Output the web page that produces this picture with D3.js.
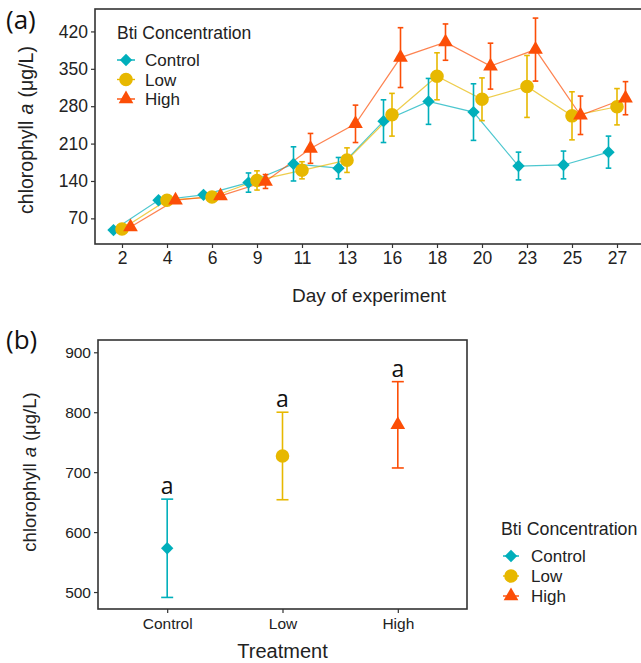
<!DOCTYPE html>
<html><head><meta charset="utf-8">
<script src="https://cdn.jsdelivr.net/npm/d3@7"></script>
<style>body{margin:0;background:#fff}svg{display:block}</style>
</head><body>
<svg id="chart" width="641" height="663"></svg>
<script>
// ---------- DATA ----------
const days = ["2","4","6","9","11","13","16","18","20","23","25","27"];
const controlMean = [48,104,114,137,172,164,252,289,269,168,170,194];
const controlErr  = [3,3,3,18,32,20,40,43,53,26,26,30];
const lowMean     = [50,104,110,141,160,179,264,336,293,317,262,279];
const lowErr      = [3,3,3,18,16,23,40,44,40,58,45,34];
const highMean    = [54,104,112,139,201,247,371,400,355,386,263,295];
const highErr     = [3,3,3,13,28,35,56,34,43,59,36,31];
const yTicksA     = [70,140,210,280,350,420];

const treatments  = ["Control","Low","High"];
const totalMean   = [573,727,779];
const totalErr    = [82,73,72];
const sigLetters  = ["a","a","a"];
const yTicksB     = [500,600,700,800,900];

const groups = ["Control","Low","High"];
const colors = {Control:"#00AFBB", Low:"#E7B800", High:"#FC4E07"};

// ---------- helpers ----------
function shapePath(g, r){
  if(g==="Control"){ return `M0,${-r}L${r},0L0,${r}L${-r},0Z`; }
  if(g==="Low"){ return d3.symbol(d3.symbolCircle, Math.PI*r*r)(); }
  const s = r*2.1, h = s*Math.sqrt(3)/2;
  return `M0,${-h*2/3}L${s/2},${h/3}L${-s/2},${h/3}Z`;
}
const rSize = {Control:6.2, Low:6.8, High:7};

const svg = d3.select("#chart");
const sans = "'Liberation Sans', Arial, sans-serif";
const roundFont = "'Open Sans', 'Noto Sans', sans-serif";

function yTitle(x, y, size){
  const t = svg.append("text").attr("transform",`translate(${x},${y}) rotate(-90)`)
    .attr("text-anchor","middle").style("font-family",sans).style("font-size",size+"px").attr("fill","#222");
  t.append("tspan").text("chlorophyll");
  t.append("tspan").attr("dx",size*0.32).text("a").style("font-style","italic");
  t.append("tspan").attr("dx",size*0.32).text("(μg/L)");
  return t;
}

// ================= PANEL A =================
const A = {l:95, r:644, t:9, b:244};
const xA = d3.scalePoint().domain(days).range([A.l, A.r]).padding(0.6);
const yA = d3.scaleLinear().domain([22, 462]).range([A.b, A.t]);
const dodge = {Control:-8.5, Low:0, High:8.5};
const seriesA = [
  {g:"Control", m:controlMean, e:controlErr},
  {g:"Low", m:lowMean, e:lowErr},
  {g:"High", m:highMean, e:highErr}
];
const gA = svg.append("g");

const axA_y = gA.append("g").attr("transform",`translate(${A.l},0)`)
  .call(d3.axisLeft(yA).tickValues(yTicksA).tickSize(4).tickPadding(3));
const axA_x = gA.append("g").attr("transform",`translate(0,${A.b})`)
  .call(d3.axisBottom(xA).tickSize(4).tickPadding(4));
[axA_x, axA_y].forEach(a=>{
  a.select(".domain").remove();
  a.selectAll(".tick line").attr("stroke","#333").attr("stroke-width",1.2);
  a.selectAll(".tick text").attr("fill","#222").style("font-family",sans).style("font-size","17.5px");
});

const lineA = d3.line().x((d,i)=>xA(days[i])+d.dx).y(d=>yA(d.v));
seriesA.forEach(s=>{
  const pts = s.m.map(v=>({v, dx:dodge[s.g]}));
  gA.append("path").attr("d", lineA(pts)).attr("fill","none")
    .attr("stroke", colors[s.g]).attr("stroke-width",1.2).attr("stroke-opacity",0.7);
});
seriesA.forEach(s=>{
  s.m.forEach((v,i)=>{
    const x = xA(days[i])+dodge[s.g];
    const y1 = yA(v+s.e[i]), y2 = yA(v-s.e[i]);
    const g = gA.append("g").attr("stroke",colors[s.g]).attr("stroke-width",1.6);
    g.append("line").attr("x1",x).attr("x2",x).attr("y1",y1).attr("y2",y2);
    g.append("line").attr("x1",x-2.8).attr("x2",x+2.8).attr("y1",y1).attr("y2",y1);
    g.append("line").attr("x1",x-2.8).attr("x2",x+2.8).attr("y1",y2).attr("y2",y2);
  });
});
seriesA.forEach(s=>{
  s.m.forEach((v,i)=>{
    gA.append("path").attr("d", shapePath(s.g, rSize[s.g]))
      .attr("transform",`translate(${xA(days[i])+dodge[s.g]},${yA(v)})`)
      .attr("fill",colors[s.g]);
  });
});
gA.append("rect").attr("x",A.l).attr("y",A.t).attr("width",A.r-A.l).attr("height",A.b-A.t)
  .attr("fill","none").attr("stroke","#333").attr("stroke-width",1.6);

// legend A
const lgA = gA.append("g").attr("transform","translate(117,33)");
lgA.append("text").text("Bti Concentration").attr("x",0).attr("y",6)
  .style("font-family",sans).style("font-size","17.5px").attr("fill","#222");
groups.forEach((g,i)=>{
  const y = 27 + i*19.5;
  lgA.append("line").attr("x1",0).attr("x2",18).attr("y1",y).attr("y2",y)
    .attr("stroke",colors[g]).attr("stroke-width",1.4);
  lgA.append("path").attr("d",shapePath(g, rSize[g])).attr("transform",`translate(9,${y})`).attr("fill",colors[g]);
  lgA.append("text").text(g).attr("x",28).attr("y",y+6)
    .style("font-family",sans).style("font-size","17px").attr("fill","#222");
});

svg.append("text").text("Day of experiment").attr("x",369).attr("y",302).attr("text-anchor","middle")
  .style("font-family",sans).style("font-size","19px").attr("fill","#222");
yTitle(33, 130, 19.5);
svg.append("text").text("(a)").attr("x",6).attr("y",29)
  .style("font-family",roundFont).style("font-size","26px").attr("fill","#111");

// ================= PANEL B =================
const B = {l:98, r:467, t:340, b:609};
const xB = d3.scalePoint().domain(treatments).range([B.l, B.r]).padding(0.6);
const yB = d3.scaleLinear().domain([471.7, 920.5]).range([B.b, B.t]);
const gB = svg.append("g");
const axB_y = gB.append("g").attr("transform",`translate(${B.l},0)`)
  .call(d3.axisLeft(yB).tickValues(yTicksB).tickSize(4).tickPadding(3));
const axB_x = gB.append("g").attr("transform",`translate(0,${B.b})`)
  .call(d3.axisBottom(xB).tickSize(4).tickPadding(5));
[axB_x, axB_y].forEach(a=>{
  a.select(".domain").remove();
  a.selectAll(".tick line").attr("stroke","#333").attr("stroke-width",1.2);
  a.selectAll(".tick text").attr("fill","#222").style("font-family",sans).style("font-size","15.5px");
});
treatments.forEach((t,i)=>{
  const x = xB(t), m = totalMean[i], e = totalErr[i];
  const y1 = yB(m+e), y2 = yB(m-e);
  const g = gB.append("g").attr("stroke",colors[t]).attr("stroke-width",1.6);
  g.append("line").attr("x1",x).attr("x2",x).attr("y1",y1).attr("y2",y2);
  g.append("line").attr("x1",x-6).attr("x2",x+6).attr("y1",y1).attr("y2",y1);
  g.append("line").attr("x1",x-6).attr("x2",x+6).attr("y1",y2).attr("y2",y2);
  gB.append("path").attr("d",shapePath(t, rSize[t])).attr("transform",`translate(${x},${yB(m)})`).attr("fill",colors[t]);
  gB.append("text").text(sigLetters[i]).attr("x",x).attr("y",yB(m+e)-5).attr("text-anchor","middle")
    .style("font-family",roundFont).style("font-size","23px").attr("fill","#111");
});
gB.append("rect").attr("x",B.l).attr("y",B.t).attr("width",B.r-B.l).attr("height",B.b-B.t)
  .attr("fill","none").attr("stroke","#333").attr("stroke-width",1.6);

// legend B
const lgB = gB.append("g").attr("transform","translate(501,529)");
lgB.append("text").text("Bti Concentration").attr("x",0).attr("y",6)
  .style("font-family",sans).style("font-size","17.8px").attr("fill","#222");
groups.forEach((g,i)=>{
  const y = 27 + i*20;
  lgB.append("line").attr("x1",2).attr("x2",18).attr("y1",y).attr("y2",y)
    .attr("stroke",colors[g]).attr("stroke-width",1.4);
  lgB.append("path").attr("d",shapePath(g, rSize[g])).attr("transform",`translate(10,${y})`).attr("fill",colors[g]);
  lgB.append("text").text(g).attr("x",30).attr("y",y+6)
    .style("font-family",sans).style("font-size","17px").attr("fill","#222");
});

svg.append("text").text("Treatment").attr("x",(B.l+B.r)/2).attr("y",658).attr("text-anchor","middle")
  .style("font-family",sans).style("font-size","20px").attr("fill","#222");
yTitle(36, 472, 18.5);
svg.append("text").text("(b)").attr("x",6).attr("y",349)
  .style("font-family",roundFont).style("font-size","26px").attr("fill","#111");
</script>
</body></html>
